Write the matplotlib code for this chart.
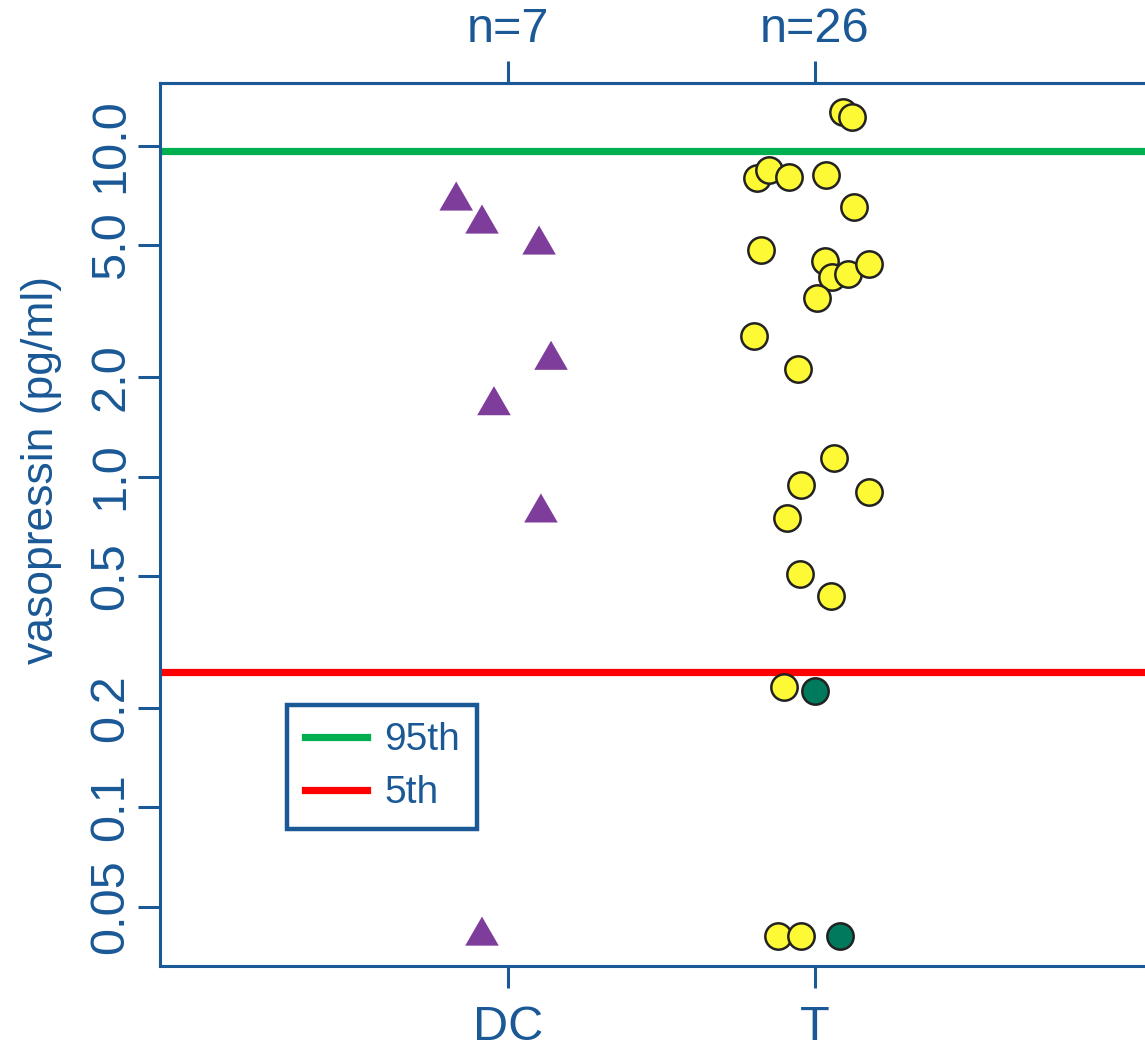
import matplotlib
matplotlib.use("Agg")
import matplotlib.pyplot as plt
from matplotlib.lines import Line2D

plt.rcParams["font.family"] = ["Liberation Sans", "DejaVu Sans"]

BLUE = "#1a5896"
YELLOW = "#fdf935"
DKGREEN = "#007a5c"
PURPLE = "#7e3d9b"

categories = ["DC", "T"]
counts = ["n=7", "n=26"]

# DC group (triangles): horizontal jitter around category 1, value in pg/ml
dc_jitter = [-0.169, -0.085, 0.101, 0.140, -0.046, 0.107, -0.085]
dc_vals = [6.82, 5.81, 5.02, 2.25, 1.64, 0.777, 0.0408]

# T group, yellow circles
t_jitter = [0.091, 0.121, -0.189, -0.150, -0.085, 0.036, 0.127, -0.176,
            0.033, 0.055, 0.107, 0.176, 0.007, -0.199, -0.055, 0.062,
            -0.046, 0.176, -0.091, -0.049, 0.052, -0.101, -0.121, -0.046]
t_vals = [12.67, 12.24, 8.0, 8.46, 8.06, 8.17, 6.54, 4.85,
          4.49, 4.02, 4.10, 4.40, 3.47, 2.66, 2.12, 1.14,
          0.944, 0.899, 0.750, 0.508, 0.436, 0.231, 0.0408, 0.0408]

# T group, dark green circles
tg_jitter = [0.0, 0.081]
tg_vals = [0.225, 0.0408]

p95 = 9.66
p5 = 0.257

yticks = [0.05, 0.1, 0.2, 0.5, 1.0, 2.0, 5.0, 10.0]
ytick_labels = ["0.05", "0.1", "0.2", "0.5", "1.0", "2.0", "5.0", "10.0"]

tri = [(-1.0, -0.577), (1.0, -0.577), (0.0, 1.155)]

fig = plt.figure(figsize=(11.45, 10.48), dpi=100)
ax = fig.add_axes([160 / 1145, 82 / 1048, 1 - 160 / 1145, 883 / 1048])
ax.set_yscale("log")
ax.set_ylim(0.0331, 15.5)
ax.set_xlim(-0.134, 3.075)

ax.axhline(p95, color="#00b050", lw=5.2, zorder=1)
ax.axhline(p5, color="#ff0000", lw=5.2, zorder=1)

ax.scatter([1 + j for j in dc_jitter], dc_vals, marker=tri, s=780,
           color=PURPLE, edgecolors="none", zorder=3)
ax.scatter([2 + j for j in t_jitter], t_vals, marker="o", s=360,
           color=YELLOW, edgecolors="#222222", linewidths=1.8, zorder=3)
ax.scatter([2 + j for j in tg_jitter], tg_vals, marker="o", s=360,
           color=DKGREEN, edgecolors="#222222", linewidths=1.8, zorder=3)

ax.set_yticks(yticks)
ax.set_yticklabels(ytick_labels, rotation=90, va="center")
ax.yaxis.set_minor_locator(matplotlib.ticker.NullLocator())
ax.set_xticks([1, 2])
ax.set_xticklabels(categories)
ax.set_ylabel("vasopressin (pg/ml)", fontsize=32, color=BLUE)
ax.yaxis.set_label_coords(-0.0995, 0.562)

top = ax.secondary_xaxis("top")
top.set_xticks([1, 2])
top.set_xticklabels(counts)

for a in (ax, top):
    a.tick_params(colors=BLUE, labelcolor=BLUE, labelsize=35, length=16,
                  width=2.2, direction="out")
ax.tick_params(axis="x", pad=12)
ax.tick_params(axis="y", pad=3)
top.tick_params(axis="x", pad=6)
for name, sp in list(ax.spines.items()) + list(top.spines.items()):
    sp.set_color(BLUE)
    sp.set_linewidth(2.2)
ax.spines["right"].set_visible(False)

handles = [Line2D([], [], color="#00b050", lw=5.2),
           Line2D([], [], color="#ff0000", lw=5.2)]
leg = ax.legend(handles, ["95th", "5th"], loc="upper left",
                bbox_to_anchor=((287 - 160) / 985, (966 - 705) / 883),
                borderaxespad=0, fontsize=28, frameon=True, fancybox=False,
                framealpha=1, handlelength=1.6, borderpad=0.45,
                labelspacing=0.43, handletextpad=0.45)
leg.get_frame().set_edgecolor(BLUE)
leg.get_frame().set_linewidth(3.2)
for t in leg.get_texts():
    t.set_color(BLUE)

fig.savefig("out.png", dpi=100)
